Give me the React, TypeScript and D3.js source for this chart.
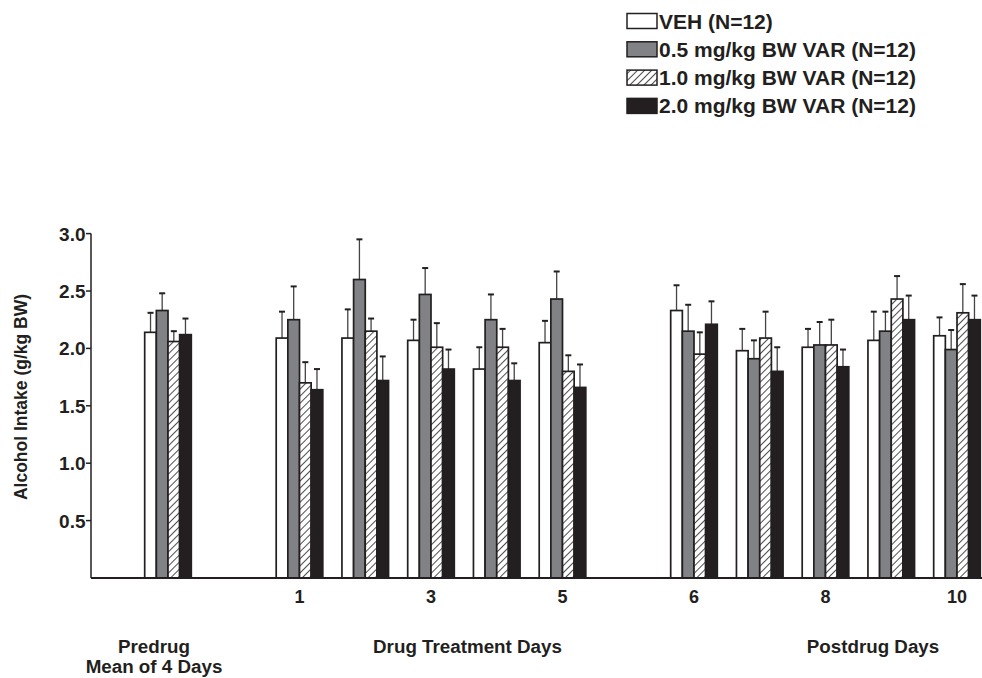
import React from "react";
import * as d3 from "d3";

const categories = ["Predrug", "gap1", "1", "2", "3", "4", "5", "gap2", "6", "7", "8", "9", "10"];
const tickLabels: Record<string, string> = { "1": "1", "3": "3", "5": "5", "6": "6", "8": "8", "10": "10" };
const seriesNames = ["VEH (N=12)", "0.5 mg/kg BW VAR (N=12)", "1.0 mg/kg BW VAR (N=12)", "2.0 mg/kg BW VAR (N=12)"];

// values per category (null for gaps)
const vehMean = [2.14, null, 2.09, 2.09, 2.07, 1.82, 2.05, null, 2.33, 1.98, 2.01, 2.07, 2.11];
const vehErr = [2.31, null, 2.32, 2.34, 2.25, 2.01, 2.24, null, 2.55, 2.17, 2.17, 2.32, 2.27];
const var05Mean = [2.33, null, 2.25, 2.60, 2.47, 2.25, 2.43, null, 2.15, 1.91, 2.03, 2.15, 1.99];
const var05Err = [2.48, null, 2.54, 2.95, 2.70, 2.47, 2.67, null, 2.38, 2.07, 2.23, 2.32, 2.16];
const var10Mean = [2.06, null, 1.70, 2.15, 2.01, 2.01, 1.80, null, 1.95, 2.09, 2.03, 2.43, 2.31];
const var10Err = [2.15, null, 1.88, 2.26, 2.22, 2.17, 1.94, null, 2.14, 2.32, 2.25, 2.63, 2.56];
const var20Mean = [2.12, null, 1.64, 1.72, 1.82, 1.72, 1.66, null, 2.21, 1.80, 1.84, 2.25, 2.25];
const var20Err = [2.26, null, 1.82, 1.93, 1.99, 1.87, 1.86, null, 2.41, 2.01, 1.99, 2.46, 2.46];

const yTicks = [0.5, 1.0, 1.5, 2.0, 2.5, 3.0];
const groupLabels = [
  { lines: ["Predrug", "Mean of 4 Days"], x: 154 },
  { lines: ["Drug Treatment Days"], x: 467.5 },
  { lines: ["Postdrug Days"], x: 873 },
];

const means = [vehMean, var05Mean, var10Mean, var20Mean];
const errs = [vehErr, var05Err, var10Err, var20Err];
const fills = ["#ffffff", "#808285", "url(#hatch)", "#231f20"];

const FONT = "'Liberation Sans', Arial, Helvetica, sans-serif";
const INK = "#231f20";

export default function App() {
  const W = 982;
  const H = 678;
  const y = d3.scaleLinear().domain([0, 3]).range([578, 233.6]);
  const x = d3.scalePoint<string>().domain(categories).range([168, 957]);
  const inner = d3.scaleBand<number>().domain([0, 1, 2, 3]).range([-23.3, 23.3]).paddingInner(0);
  const bw = inner.bandwidth();
  const axisX = 91;

  return (
    <svg width={W} height={H} style={{ position: "absolute", left: 0, top: 0 }} fontFamily={FONT}>
      <defs>
        <pattern id="hatch" patternUnits="userSpaceOnUse" width="5" height="5" patternTransform="rotate(45)">
          <rect width="5" height="5" fill="#fff" />
          <line x1="0" y1="0" x2="0" y2="5" stroke={INK} strokeWidth="1.6" />
        </pattern>
      </defs>
      <rect width={W} height={H} fill="#fff" />

      {/* legend */}
      {seriesNames.map((name, i) => {
        const top = 13.5 + i * 28.3;
        return (
          <g key={name}>
            <rect x={627} y={top} width={30} height={15} fill={fills[i]} stroke={INK} strokeWidth={1.5} />
            <text x={659} y={top + 15} fontSize={21} fontWeight="bold" fill={INK}>{name}</text>
          </g>
        );
      })}

      {/* bars */}
      {categories.map((c, ci) => (
        <g key={c} transform={`translate(${x(c)},0)`}>
          {means.map((arr, si) => {
            const v = arr[ci];
            if (v == null) return null;
            const e = errs[si][ci] as number;
            const bx = inner(si) as number;
            const cx = bx + bw / 2;
            return (
              <g key={si}>
                <line x1={cx} x2={cx} y1={y(v)} y2={y(e)} stroke="#444" strokeWidth={1.3} />
                <line x1={cx - 3} x2={cx + 3} y1={y(e)} y2={y(e)} stroke={INK} strokeWidth={2} />
                <rect x={bx} y={y(v)} width={bw} height={y(0) - y(v)} fill={fills[si]} stroke={INK} strokeWidth={1.7} />
              </g>
            );
          })}
        </g>
      ))}

      {/* axes */}
      <line x1={axisX} x2={axisX} y1={y(3)} y2={y(0)} stroke={INK} strokeWidth={1.5} />
      <line x1={axisX} x2={W} y1={y(0)} y2={y(0)} stroke={INK} strokeWidth={2} />
      {yTicks.map((t) => (
        <g key={t}>
          <line x1={axisX - 5} x2={axisX} y1={y(t)} y2={y(t)} stroke={INK} strokeWidth={1.5} />
          <text x={85.5} y={y(t) + 7} textAnchor="end" fontSize={19} fontWeight="bold" fill={INK}>
            {t.toFixed(1)}
          </text>
        </g>
      ))}
      <text
        transform={`translate(27,397) rotate(-90)`}
        textAnchor="middle"
        fontSize={17.5}
        fontWeight="bold"
        fill={INK}
      >
        Alcohol Intake (g/kg BW)
      </text>

      {categories.filter((c) => tickLabels[c]).map((c) => (
        <text key={c} x={x(c)} y={603} textAnchor="middle" fontSize={18} fontWeight="bold" fill={INK}>
          {tickLabels[c]}
        </text>
      ))}
      {groupLabels.map((g) => (
        <text key={g.lines[0]} x={g.x} y={653} textAnchor="middle" fontSize={18.8} fontWeight="bold" fill={INK}>
          {g.lines.map((l, i) => (
            <tspan key={l} x={g.x} dy={i === 0 ? 0 : 19.5}>{l}</tspan>
          ))}
        </text>
      ))}
    </svg>
  );
}
